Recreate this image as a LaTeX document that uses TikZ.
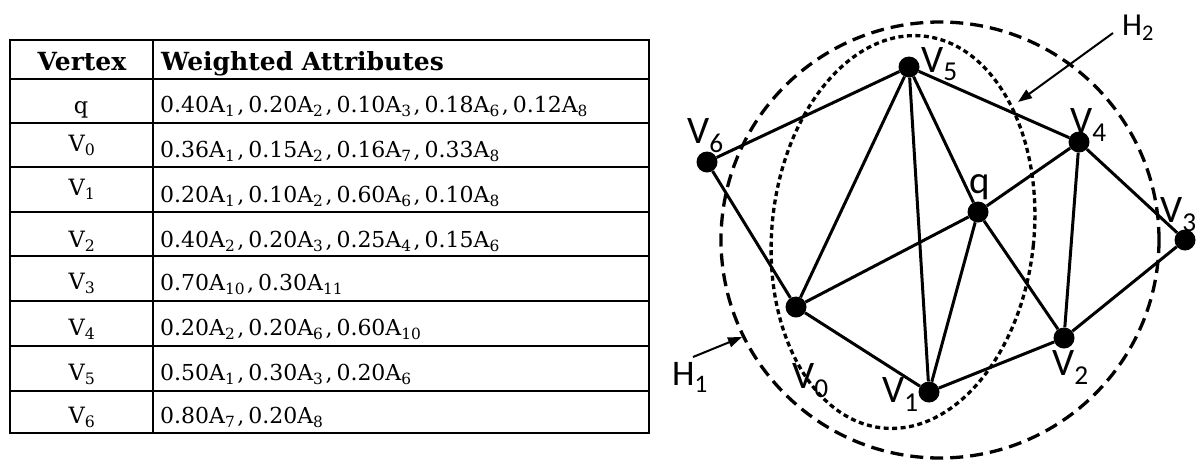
\documentclass[tikz,border=0pt]{standalone}
\usepackage{fontspec}
\setmainfont{DejaVu Serif}
\newfontfamily\headfont{DejaVu Serif}
\newfontfamily\lblfont{Carlito}
\usetikzlibrary{arrows.meta}
\newcommand\wa[2]{#1A\textsubscript{#2}}
\newcommand\cs{\hspace{2pt},\hspace{4pt}}
\begin{document}
\begin{tikzpicture}[x=1pt,y=-1pt,
  tline/.style={line width=2pt},
  cell/.style={anchor=base west,inner sep=0pt,font=\fontsize{22}{26}\selectfont},
  vcell/.style={anchor=base,inner sep=0pt,font=\fontsize{22.5}{26}\selectfont},
  head/.style={anchor=base,inner sep=0pt,font=\fontsize{25}{29}\selectfont\headfont\bfseries},
  vtx/.style={circle,fill=black,inner sep=0pt,minimum size=21pt},
  edge/.style={line width=3pt},
  lbl/.style={anchor=base west,inner sep=0pt,font=\fontsize{39}{44}\selectfont\lblfont},
  hullone/.style={line width=3.3pt,dash pattern=on 13pt off 7pt},
  hulltwo/.style={line width=3.3pt,dash pattern=on 5pt off 3.5pt},
  pointer/.style={line width=2pt,-{Triangle[length=14pt,width=10pt]}}
]
\useasboundingbox (0,0) rectangle (1202,459);
% table grid
\draw[tline] (10,40) rectangle (649,433);
\draw[tline] (153,40) -- (153,433);
\foreach \yy in {79,123,167,212,256,301,346,391} \draw[tline] (10,\yy) -- (649,\yy);
% header
\node[head] (hv) at (82,70) {Vertex};
\node[head,anchor=base west] (hw) at (161,70) {Weighted Attributes};
% vertex column
\node[vcell] (rq) at (81,113) {q};
\node[vcell] (r0) at (82,151) {V\textsubscript{0}};
\node[vcell] (r1) at (82,195) {V\textsubscript{1}};
\node[vcell] (r2) at (82,247) {V\textsubscript{2}};
\node[vcell] (r3) at (82,289) {V\textsubscript{3}};
\node[vcell] (r4) at (82,335) {V\textsubscript{4}};
\node[vcell] (r5) at (82,380) {V\textsubscript{5}};
\node[vcell] (r6) at (82,423) {V\textsubscript{6}};
% attributes column
\node[cell] (aq) at (160,112) {\wa{0.40}{1}\cs\wa{0.20}{2}\cs\wa{0.10}{3}\cs\wa{0.18}{6}\cs\wa{0.12}{8}};
\node[cell] (a0) at (160,157) {\wa{0.36}{1}\cs\wa{0.15}{2}\cs\wa{0.16}{7}\cs\wa{0.33}{8}};
\node[cell] (a1) at (160,202) {\wa{0.20}{1}\cs\wa{0.10}{2}\cs\wa{0.60}{6}\cs\wa{0.10}{8}};
\node[cell] (a2) at (160,247) {\wa{0.40}{2}\cs\wa{0.20}{3}\cs\wa{0.25}{4}\cs\wa{0.15}{6}};
\node[cell] (a3) at (160,290) {\wa{0.70}{10}\cs\wa{0.30}{11}};
\node[cell] (a4) at (160,335) {\wa{0.20}{2}\cs\wa{0.20}{6}\cs\wa{0.60}{10}};
\node[cell] (a5) at (160,380) {\wa{0.50}{1}\cs\wa{0.30}{3}\cs\wa{0.20}{6}};
\node[cell] (a6) at (160,423) {\wa{0.80}{7}\cs\wa{0.20}{8}};
% hulls
\draw[hullone] (940,240) ellipse [x radius=219pt, y radius=218pt];
\draw[hulltwo, rotate around={-6:(903,232)}] (903,232) ellipse [x radius=131pt, y radius=197pt];
% vertices
\node[vtx] (v5) at (909,67) {};
\node[vtx] (v6) at (707,162) {};
\node[vtx] (v4) at (1079,142) {};
\node[vtx] (q) at (978,212) {};
\node[vtx] (v3) at (1185,240) {};
\node[vtx] (v2) at (1064,338) {};
\node[vtx] (v1) at (929,392) {};
\node[vtx] (v0) at (796,307) {};
% edges
\draw[edge] (v5) -- (v6);
\draw[edge] (v6) -- (v0);
\draw[edge] (v0) -- (v5);
\draw[edge] (v5) -- (v1);
\draw[edge] (v5) -- (q);
\draw[edge] (v5) -- (v4);
\draw[edge] (v4) -- (q);
\draw[edge] (q) -- (v0);
\draw[edge] (q) -- (v1);
\draw[edge] (q) -- (v2);
\draw[edge] (v4) -- (v2);
\draw[edge] (v4) -- (v3);
\draw[edge] (v3) -- (v2);
\draw[edge] (v2) -- (v1);
\draw[edge] (v1) -- (v0);
% vertex labels
\node[lbl] (l5) at (921,72) {V\textsubscript{5}};
\node[lbl] (l6) at (687,143) {V\textsubscript{6}};
\node[lbl] (l4) at (1070,133) {V\textsubscript{4}};
\node[lbl] (lq) at (969,193) {q};
\node[lbl] (l3) at (1160,222) {V\textsubscript{3}};
\node[lbl] (l2) at (1052,375) {V\textsubscript{2}};
\node[lbl] (l1) at (882,402) {V\textsubscript{1}};
\node[lbl] (l0) at (792,388) {V\textsubscript{0}};
% hull labels and pointers
\node[lbl,font=\fontsize{36}{40}\selectfont\lblfont] (h1) at (672,385) {H\textsubscript{1}};
\node[lbl,font=\fontsize{32}{36}\selectfont\lblfont] (h2) at (1122,35) {H\textsubscript{2}};
\coordinate (h1s) at (693,357);
\coordinate (h1e) at (742,337);
\coordinate (h2s) at (1113,33);
\coordinate (h2e) at (1018,102);
\draw[pointer] (h1s) -- (h1e);
\draw[pointer] (h2s) -- (h2e);
\end{tikzpicture}
\end{document}
